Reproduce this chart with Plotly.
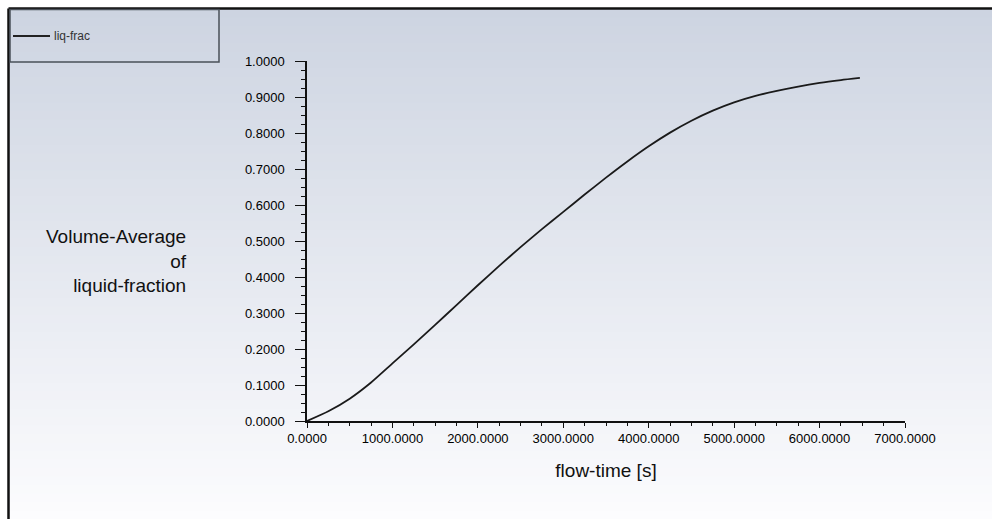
"""Fluent-style monitor plot: volume-averaged liquid fraction vs flow time."""

import plotly.graph_objects as go

# data
flow_time = [0, 250, 500, 750, 1000, 1250, 1500, 1750, 2000, 2250, 2500, 2750, 3000,
             3250, 3500, 3750, 4000, 4250, 4500, 4750, 5000, 5250, 5500, 5750, 6000,
             6250, 6472]
liq_frac = [0.0, 0.027, 0.062, 0.107, 0.160, 0.213, 0.267, 0.322, 0.377, 0.431, 0.483,
            0.533, 0.581, 0.629, 0.676, 0.721, 0.763, 0.801, 0.834, 0.862, 0.885, 0.903,
            0.917, 0.929, 0.939, 0.947, 0.953]
series_name = "liq-frac"
x_title = "flow-time [s]"
y_title_lines = ["Volume-Average", "of", "liquid-fraction"]

W, H = 992, 519
L, R, T, B = 307, 87, 61, 98
PW, PH = W - L - R, H - T - B


def px(x):
    """window x pixel -> paper coordinate"""
    return (x - L) / PW


def py(y):
    """window y pixel -> paper coordinate"""
    return (H - B - y) / PH


fig = go.Figure()
fig.add_trace(go.Scatter(x=flow_time, y=liq_frac, mode="lines", name=series_name,
                         line=dict(color="#1a1a1a", width=1.8, shape="spline", smoothing=0.6),
                         showlegend=False))

shapes = []
# vertical gradient background, drawn as thin bands
top, bot = (205, 212, 225), (252, 252, 254)
y0, y1, n = 9, H, 60
for i in range(n):
    a = y0 + (y1 - y0) * i / n
    b = y0 + (y1 - y0) * (i + 1) / n
    f = (i + 0.5) / n
    c = tuple(round(top[k] + (bot[k] - top[k]) * f) for k in range(3))
    shapes.append(dict(type="rect", xref="paper", yref="paper", layer="below",
                       x0=px(9), x1=px(W + 1), y0=py(b + 0.5), y1=py(a),
                       fillcolor="rgb(%d,%d,%d)" % c, line=dict(width=0)))
# outer frame
shapes.append(dict(type="line", xref="paper", yref="paper", x0=px(8.5), x1=px(W + 1),
                   y0=py(8.5), y1=py(8.5), line=dict(color="#111", width=2.5)))
shapes.append(dict(type="line", xref="paper", yref="paper", x0=px(8.5), x1=px(8.5),
                   y0=py(8.5), y1=py(H + 1), line=dict(color="#111", width=2.5)))
# legend box
shapes.append(dict(type="rect", xref="paper", yref="paper", x0=px(10), x1=px(219),
                   y0=py(62), y1=py(9.5), line=dict(color="#4a5058", width=1.5)))
shapes.append(dict(type="line", xref="paper", yref="paper", x0=px(13), x1=px(50),
                   y0=py(36), y1=py(36), line=dict(color="#222", width=2)))

annotations = [
    dict(text=series_name, xref="paper", yref="paper", x=px(52), y=py(36),
         xanchor="left", yanchor="middle", showarrow=False,
         font=dict(size=12, color="#333")),
    dict(text="<br>".join(y_title_lines), xref="paper", yref="paper",
         x=px(189), y=py(261), xanchor="right", yanchor="middle", align="right",
         showarrow=False, font=dict(size=19, color="#111")),
]

axis_common = dict(showline=True, linecolor="#111", linewidth=1.5, showgrid=False,
                   zeroline=False, ticks="outside", tickcolor="#111",
                   tickfont=dict(size=13, color="#000"))
fig.update_xaxes(range=[0, 7000], dtick=1000, tickformat=".4f", ticklen=5,
                 minor=dict(dtick=250, ticks="outside", ticklen=3, tickcolor="#111"),
                 title=dict(text=x_title, font=dict(size=19, color="#111"), standoff=18),
                 **axis_common)
fig.update_yaxes(range=[0, 1], dtick=0.1, tickformat=".4f", ticklen=10,
                 ticklabelstandoff=8,
                 minor=dict(dtick=0.025, ticks="outside", ticklen=4, tickcolor="#111"),
                 **axis_common)

fig.update_layout(
    width=W, height=H,
    margin=dict(l=L, r=R, t=T, b=B),
    paper_bgcolor="white", plot_bgcolor="rgba(0,0,0,0)",
    font=dict(family="Arial, Liberation Sans, sans-serif"),
    shapes=shapes, annotations=annotations,
)
# drop the default page margin so the figure fills the window exactly
fig.write_html("out.html", config={"displayModeBar": False},
               post_script="document.body.style.margin='0';document.body.style.overflow='hidden';")
